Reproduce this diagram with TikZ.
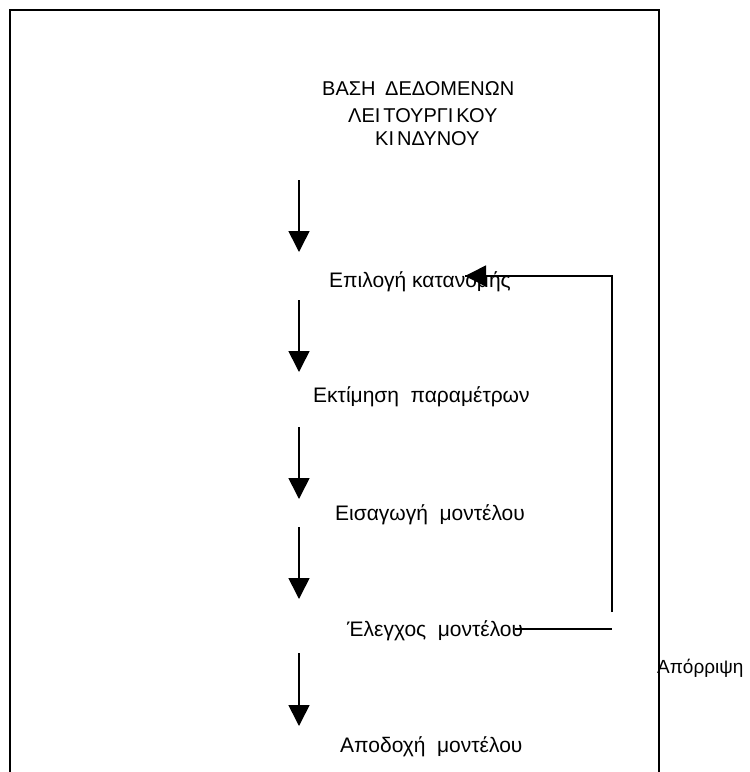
\documentclass[tikz,border=0pt]{standalone}
\usepackage{fontspec}
\setmainfont{Liberation Sans}
\usetikzlibrary{arrows.meta}
\tikzset{
  lbl/.style={anchor=base west, inner sep=0pt, font=\fontsize{21}{25}\selectfont},
  ttl/.style={anchor=base west, inner sep=0pt, font=\fontsize{20}{24}\selectfont},
  flow/.style={line width=1.6pt, -{Triangle[width=21pt,length=21pt]}},
  back/.style={line width=1.6pt},
  frame/.style={line width=2pt}
}
\newcommand{\gap}{\hspace{0.55em}}
\begin{document}
\begin{tikzpicture}[x=1pt,y=-1pt]
  \useasboundingbox (0,0) rectangle (750,772);
  % open-bottom frame
  \draw[frame] (10,772) -- (10,10) -- (659,10) -- (659,772);

  % title lines
  \node[ttl] (t1) at (322,95) {ΒΑΣΗ\hspace{0.2em} ΔΕΔΟΜΕΝΩΝ};
  \node[ttl] (t2) at (348,122) {ΛΕΙ\kern3pt ΤΟΥΡΓΙ\kern3pt ΚΟΥ};
  \node[ttl] (t3) at (375,145) {ΚΙ\kern3pt ΝΔΥΝΟΥ};

  % steps
  \node[lbl] (s1) at (329,287) {Επιλογή κατανομής};
  \node[lbl] (s2) at (313,402) {Εκτίμηση\gap παραμέτρων};
  \node[lbl] (s3) at (335,520) {Εισαγωγή\gap μοντέλου};
  \node[lbl] (s4) at (347,636) {Έλεγχος\gap μοντέλου};
  \node[lbl] (s5) at (340,752) {Αποδοχή\gap μοντέλου};
  \node[anchor=base west, inner sep=0pt, font=\fontsize{19}{23}\selectfont] (rej) at (657,673) {Απόρριψη};

  % downward arrows
  \coordinate (a1) at (299,180); \coordinate (b1) at (299,252);
  \coordinate (a2) at (299,300); \coordinate (b2) at (299,372);
  \coordinate (a3) at (299,427); \coordinate (b3) at (299,499);
  \coordinate (a4) at (299,527); \coordinate (b4) at (299,599);
  \coordinate (a5) at (299,653); \coordinate (b5) at (299,726);
  \foreach \i in {1,...,5} \draw[flow] (a\i) -- (b\i);

  % rejection loop back to the distribution choice
  \coordinate (r1) at (515,629);
  \coordinate (r2) at (612,629);
  \coordinate (r3) at (612,612);
  \coordinate (r4) at (612,276);
  \coordinate (r5) at (465,276);
  \draw[back] (r1) -- (r2);
  \draw[back] (r3) -- (r4) -- (r5);
  \draw[flow] (490,276) -- (r5);
\end{tikzpicture}
\end{document}
